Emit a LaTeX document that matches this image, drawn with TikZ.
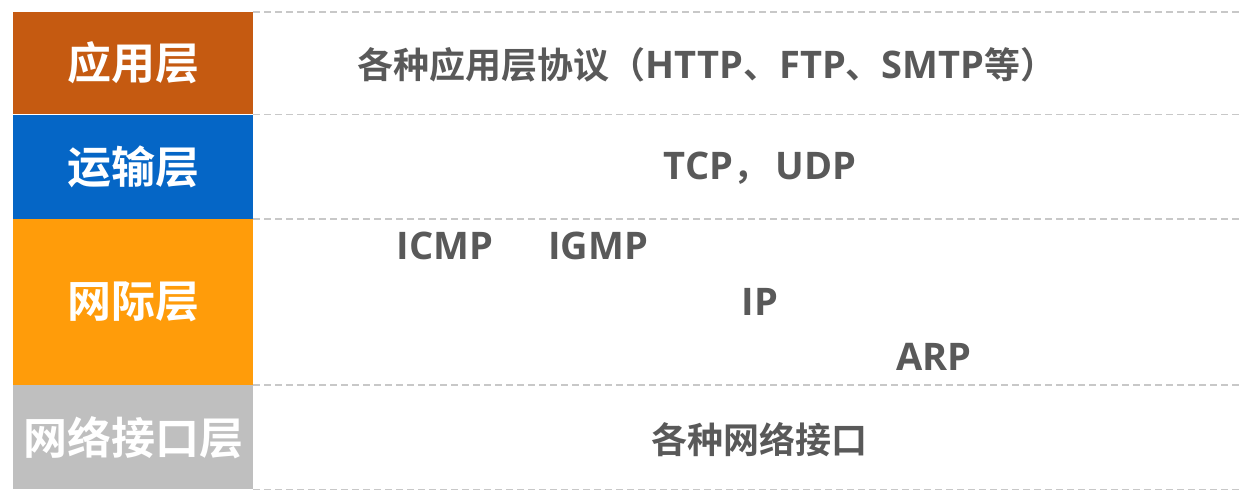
\documentclass[tikz,border=0pt]{standalone}
\usepackage{fontspec}
\setmainfont{Open Sans}
\newfontfamily\cjk{Noto Sans CJK SC}[BoldFont={* Bold}]
\usetikzlibrary{positioning}
\definecolor{appcol}{HTML}{C55A11}
\definecolor{tracol}{HTML}{0566C6}
\definecolor{netcol}{HTML}{FF9C0A}
\definecolor{linkcol}{HTML}{BFBFBF}
\definecolor{txtcol}{HTML}{595959}
\definecolor{sepcol}{HTML}{C8C8C8}
\newcommand{\cjkb}{\cjk\bfseries\fontsize{36}{36}\selectfont}
\tikzset{
	layer/.style={shape=rectangle,inner sep=0pt,minimum width=240pt,text=white,font=\cjk\bfseries\fontsize{44}{44}\selectfont},
	proto/.style={text=txtcol,inner sep=0pt,font=\bfseries\fontsize{38}{38}\selectfont},
	sep/.style={draw=sepcol,line width=1.5pt,dash pattern=on 7pt off 4pt}
}
\begin{document}
\begin{tikzpicture}[x=1pt,y=-1pt]
	\useasboundingbox (0,0) rectangle (1241,498);
	\node[layer,fill=appcol,minimum height=102pt,anchor=north west] (app) at (13,12) {应用层};
	\node[layer,fill=tracol,minimum height=104pt] (tra) [below=0pt of app] {运输层};
	\node[layer,fill=netcol,minimum height=166pt] (net) [below=0pt of tra] {网际层};
	\node[layer,fill=linkcol,minimum height=104pt] (link) [below=0pt of net] {网络接口层};
	\coordinate (r) at (1241,0);

	\node[proto] (appp) at (707,65) {{\cjkb 各种应用层协议（}HTTP{\cjkb 、}FTP{\cjkb 、}SMTP{\cjkb 等）}};
	\node[proto] (tcp) at (760,168) {TCP{\cjkb ，}\,UDP};
	\node[proto] (icmp) at (445,246) {ICMP};
	\node[proto] (igmp) at (598,246) {IGMP};
	\node[proto] (ip) at (760,302) {IP};
	\node[proto] (arp) at (934,357) {ARP};
	\node[proto,font=\cjkb] (nic) at (759,440) {各种网络接口};

	\draw[sep] (app.north east) -- (app.north east -| r);
	\draw[sep] (tra.north east) -- (tra.north east -| r);
	\draw[sep] (net.north east) -- (net.north east -| r);
	\draw[sep] (link.north east) -- (link.north east -| r);
	\draw[sep] (link.south east) -- (link.south east -| r);
\end{tikzpicture}
\end{document}
